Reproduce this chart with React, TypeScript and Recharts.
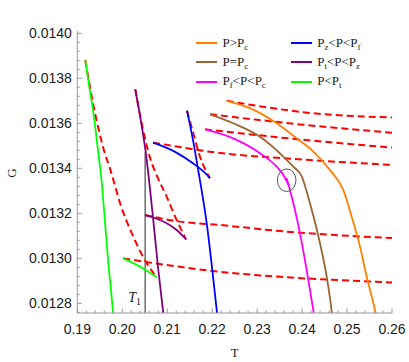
import React from "react"
import {
    LineChart,
    Line,
    XAxis,
    YAxis,
    ReferenceLine,
    ReferenceDot,
    Label
} from "recharts"

type Pt = { T: number; G: number }

// solid branches (T, G)
const orangeT = [0.22323, 0.22841, 0.23435, 0.2388, 0.24214, 0.24621, 0.24916, 0.25103, 0.25288, 0.25437, 0.25622, 0.25644]
const orangeG = [0.0137, 0.013667, 0.0136, 0.013533, 0.013481, 0.013392, 0.013304, 0.013185, 0.013052, 0.012918, 0.01277, 0.01275]
const brownT = [0.21952, 0.2247, 0.23064, 0.23582, 0.23798, 0.23987, 0.24176, 0.24398, 0.24547, 0.24658, 0.24665]
const brownG = [0.01364, 0.0136, 0.01354, 0.013452, 0.013408, 0.013366, 0.013244, 0.013067, 0.012918, 0.012763, 0.01275]
const magentaUpT = [0.2184, 0.2247, 0.23064, 0.23435, 0.23597, 0.23709]
const magentaUpG = [0.013573, 0.013533, 0.013467, 0.013407, 0.013366, 0.013321]
const magentaT = [0.23653, 0.23731, 0.23953, 0.24102, 0.24249, 0.24265]
const magentaG = [0.013357, 0.013304, 0.013111, 0.012948, 0.01277, 0.01275]
const blueT = [0.2144, 0.21573, 0.21669, 0.21878, 0.22101, 0.22112]
const blueG = [0.013656, 0.013526, 0.013415, 0.013156, 0.01277, 0.01275]
const blueUpT = [0.20684, 0.21166, 0.21573, 0.21818, 0.21952]
const blueUpG = [0.013514, 0.013474, 0.013422, 0.013384, 0.013356]
const purpleT = [0.2029, 0.20423, 0.20535, 0.20584, 0.2069, 0.20802, 0.20916]
const purpleG = [0.013751, 0.0136, 0.013452, 0.01337, 0.01317, 0.012948, 0.01275]
const purpleLowT = [0.20506, 0.2075, 0.20988, 0.21211, 0.21418]
const purpleLowG = [0.013192, 0.013177, 0.013156, 0.013126, 0.013084]
const greenT = [0.19178, 0.1926, 0.19349, 0.1946, 0.19538, 0.19616, 0.1969, 0.1975, 0.198]
const greenG = [0.013881, 0.01377, 0.013659, 0.013481, 0.013348, 0.013161, 0.012979, 0.012859, 0.01275]
const greenLowT = [0.20023, 0.20395, 0.20573, 0.20766]
const greenLowG = [0.013, 0.012963, 0.012941, 0.012916]

// red dashed branches
const dashOrangeT = [0.22323, 0.23242, 0.24176, 0.26]
const dashOrangeG = [0.0137, 0.01367, 0.013646, 0.013626]
const dashBrownT = [0.21952, 0.23953, 0.26]
const dashBrownG = [0.01364, 0.013595, 0.013558]
const dashMagentaT = [0.2184, 0.23953, 0.26]
const dashMagentaG = [0.013573, 0.013528, 0.013492]
const dashBlueT = [0.20684, 0.2124, 0.21685, 0.24176, 0.26]
const dashBlueG = [0.013514, 0.013496, 0.013481, 0.013437, 0.013415]
const dashBlueCuspT = [0.2144, 0.21573, 0.21729, 0.21952]
const dashBlueCuspG = [0.013656, 0.013561, 0.013452, 0.013356]
const dashPurpleT = [0.20506, 0.21284, 0.22174, 0.23508, 0.26]
const dashPurpleG = [0.013192, 0.013163, 0.013148, 0.013121, 0.01309]
const dashPurpleCuspT = [0.2029, 0.20435, 0.2061, 0.20795, 0.20988, 0.21211, 0.21418]
const dashPurpleCuspG = [0.013751, 0.013597, 0.013452, 0.013356, 0.013274, 0.01317, 0.013084]
const dashGreenT = [0.20023, 0.20988, 0.22174, 0.23508, 0.26]
const dashGreenG = [0.013, 0.01297, 0.01294, 0.012918, 0.012893]
const dashGreenCuspT = [0.19178, 0.19349, 0.19572, 0.1975, 0.1995, 0.20246, 0.20544, 0.20766]
const dashGreenCuspG = [0.013881, 0.01369, 0.013495, 0.013384, 0.013246, 0.013096, 0.012978, 0.012916]

const seriesLabels = ["P>P_c", "P=P_c", "P_f<P<P_c", "P_z<P<P_f", "P_t<P<P_z", "P<P_t"]
const seriesColors = ["#ff8000", "#996633", "#ff00ff", "#0000ff", "#800080", "#00ff00"]

const xMajor = [0.19, 0.2, 0.21, 0.22, 0.23, 0.24, 0.25, 0.26]
const yMajor = [0.0128, 0.013, 0.0132, 0.0134, 0.0136, 0.0138, 0.014]

const t1 = 0.2051
const t1Top = 0.01347
const circleT = 0.23657
const circleG = 0.013347

const xDomain = [0.19, 0.26]
const yDomain = [0.012757, 0.01401]

const pts = (T: number[], G: number[]): Pt[] => T.map((t, i) => ({ T: t, G: G[i] }))

// minor ticks: 4 between each pair of majors
const withMinors = (major: number[], from: number) => {
    const out: number[] = []
    for (let i = 0; i < major.length - 1; i++) {
        const step = (major[i + 1] - major[i]) / 5
        for (let k = 0; k < 5; k++) out.push(+(major[i] + k * step).toFixed(6))
    }
    out.push(major[major.length - 1])
    const step0 = (major[1] - major[0]) / 5
    for (let v = major[0] - step0; v >= from - 1e-9; v -= step0) out.unshift(+v.toFixed(6))
    return out
}

const xTicks = withMinors(xMajor, xDomain[0])
const yTicks = withMinors(yMajor, yDomain[0])

const isMajor = (list: number[], v: number) => list.some((m) => Math.abs(m - v) < 1e-9)

const tickFont = '"Liberation Sans", Arial, sans-serif'
const serif = '"Liberation Serif", "Times New Roman", serif'

function XTick({ x, y, payload }: any) {
    const major = isMajor(xMajor, payload.value)
    return (
        <g>
            <line x1={x} y1={y} x2={x} y2={y - (major ? 4.5 : 2.5)} stroke="#999" strokeWidth={1} />
            {major && (
                <text x={x} y={y + 20.5} textAnchor="middle" fontFamily={tickFont} fontSize={14} fill="#1a1a1a">
                    {payload.value.toFixed(2)}
                </text>
            )}
        </g>
    )
}

function YTick({ x, y, payload }: any) {
    const major = isMajor(yMajor, payload.value)
    return (
        <g>
            <line x1={x} y1={y} x2={x + (major ? 4.5 : 2.5)} y2={y} stroke="#999" strokeWidth={1} />
            {major && (
                <text x={x - 5.5} y={y + 4.8} textAnchor="end" fontFamily={tickFont} fontSize={14} fill="#1a1a1a">
                    {payload.value.toFixed(4)}
                </text>
            )}
        </g>
    )
}

function LegendText({ text }: { text: string }) {
    const parts = text.split(/(_.)/)
    return (
        <span>
            {parts.map((p, i) =>
                p.startsWith("_") ? (
                    <span key={i} style={{ fontSize: 9, position: "relative", top: 3 }}>
                        {p.slice(1)}
                    </span>
                ) : (
                    <span key={i}>{p}</span>
                )
            )}
        </span>
    )
}

const dashed = { stroke: "#ff0000", strokeWidth: 2, strokeDasharray: "7 4" }

export default function App() {
    const solids: [number[], number[], string][] = [
        [orangeT, orangeG, seriesColors[0]],
        [brownT, brownG, seriesColors[1]],
        [magentaUpT, magentaUpG, seriesColors[2]],
        [magentaT, magentaG, seriesColors[2]],
        [blueT, blueG, seriesColors[3]],
        [blueUpT, blueUpG, seriesColors[3]],
        [purpleT, purpleG, seriesColors[4]],
        [purpleLowT, purpleLowG, seriesColors[4]],
        [greenT, greenG, seriesColors[5]],
        [greenLowT, greenLowG, seriesColors[5]]
    ]
    const dashes: [number[], number[]][] = [
        [dashOrangeT, dashOrangeG],
        [dashBrownT, dashBrownG],
        [dashMagentaT, dashMagentaG],
        [dashBlueT, dashBlueG],
        [dashBlueCuspT, dashBlueCuspG],
        [dashPurpleT, dashPurpleG],
        [dashPurpleCuspT, dashPurpleCuspG],
        [dashGreenT, dashGreenG],
        [dashGreenCuspT, dashGreenCuspG]
    ]

    return (
        <div style={{ position: "absolute", left: 0, top: 0, width: 409, height: 362, background: "#fff" }}>
            <LineChart width={409} height={362} margin={{ top: 31, right: 17, bottom: 0, left: 0 }}>
                <XAxis
                    dataKey="T"
                    type="number"
                    domain={xDomain}
                    ticks={xTicks}
                    interval={0}
                    allowDataOverflow
                    height={49}
                    tickSize={0}
                    tickMargin={0}
                    tickLine={false}
                    axisLine={{ stroke: "#999" }}
                    tick={<XTick />}
                >
                    <Label
                        content={({ viewBox }: any) => (
                            <text
                                x={viewBox.x + viewBox.width / 2}
                                y={viewBox.y + 44}
                                textAnchor="middle"
                                fontFamily={serif}
                                fontSize={13}
                                fill="#1a1a1a"
                            >
                                T
                            </text>
                        )}
                    />
                </XAxis>
                <YAxis
                    dataKey="G"
                    type="number"
                    domain={yDomain}
                    ticks={yTicks}
                    interval={0}
                    allowDataOverflow
                    width={77.3}
                    tickSize={0}
                    tickMargin={0}
                    tickLine={false}
                    axisLine={{ stroke: "#999" }}
                    tick={<YTick />}
                >
                    <Label
                        content={({ viewBox }: any) => (
                            <text
                                x={15.5}
                                y={viewBox.y + viewBox.height / 2 + 1}
                                transform={`rotate(-90, 15.5, ${viewBox.y + viewBox.height / 2 + 1})`}
                                textAnchor="middle"
                                fontFamily={serif}
                                fontSize={13}
                                fill="#1a1a1a"
                            >
                                G
                            </text>
                        )}
                    />
                </YAxis>
                <ReferenceLine
                    segment={[
                        { x: t1, y: yDomain[0] },
                        { x: t1, y: t1Top }
                    ]}
                    stroke="#777"
                    strokeWidth={1.6}
                    label={{
                        content: ({ viewBox }: any) => (
                            <text
                                x={viewBox.x - 17}
                                y={viewBox.y + viewBox.height - 11.5}
                                fontFamily={serif}
                                fontSize={14}
                                fontStyle="italic"
                                fill="#1a1a1a"
                            >
                                T
                                <tspan fontSize={10} fontStyle="normal" dy={3}>
                                    1
                                </tspan>
                            </text>
                        )
                    }}
                />
                {dashes.map(([T, G], i) => (
                    <Line
                        key={"d" + i}
                        data={pts(T, G)}
                        dataKey="G"
                        type="monotone"
                        {...dashed}
                        dot={false}
                        activeDot={false}
                        isAnimationActive={false}
                    />
                ))}
                {solids.map(([T, G, c], i) => (
                    <Line
                        key={"s" + i}
                        data={pts(T, G)}
                        dataKey="G"
                        type="monotone"
                        stroke={c}
                        strokeWidth={1.8}
                        dot={false}
                        activeDot={false}
                        isAnimationActive={false}
                    />
                ))}
                <ReferenceDot
                    x={circleT}
                    y={circleG}
                    r={10}
                    shape={(p: any) => (
                        <ellipse cx={p.cx} cy={p.cy} rx={9.3} ry={11.3} fill="none" stroke="#555" strokeWidth={1} />
                    )}
                />
            </LineChart>
            <div
                style={{
                    position: "absolute",
                    left: 196,
                    top: 33.7,
                    display: "grid",
                    gridTemplateRows: "repeat(3, 19.2px)",
                    gridTemplateColumns: "94.7px auto",
                    gridAutoFlow: "column",
                    fontFamily: serif,
                    fontSize: 13,
                    color: "#1a1a1a"
                }}
            >
                {seriesLabels.map((l, i) => (
                    <div key={l} style={{ display: "flex", alignItems: "center", lineHeight: "19.2px" }}>
                        <span style={{ width: 21, height: 2, background: seriesColors[i], marginRight: 5.5 }} />
                        <LegendText text={l} />
                    </div>
                ))}
            </div>
        </div>
    )
}
